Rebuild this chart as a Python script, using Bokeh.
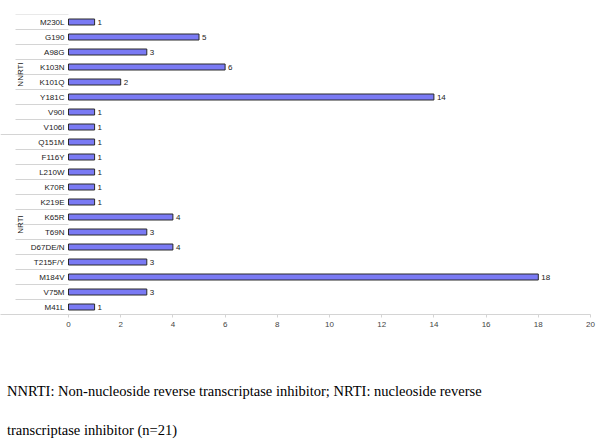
import math
from bokeh.plotting import figure
from bokeh.layouts import column
from bokeh.models import FactorRange, Range1d, FixedTicker, ColumnDataSource, Div
from bokeh.core.properties import value
from bokeh.embed import file_html
from bokeh.resources import INLINE

# ---- data (top to bottom as in the chart) ----
categories = ["M230L", "G190", "A98G", "K103N", "K101Q", "Y181C", "V90I", "V106I",
              "Q151M", "F116Y", "L210W", "K70R", "K219E", "K65R", "T69N",
              "D67DE/N", "T215F/Y", "M184V", "V75M", "M41L"]
counts = [1, 5, 3, 6, 2, 14, 1, 1,
          1, 1, 1, 1, 1, 4, 3, 4, 3, 18, 3, 1]
groups = ["NNRTI", "NRTI"]
group_sizes = [8, 12]
x_ticks = list(range(0, 21, 2))
caption_lines = [
    "NNRTI: Non-nucleoside reverse transcriptase inhibitor; NRTI: nucleoside reverse",
    "transcriptase inhibitor (n=21)",
]

# ---- layout constants (pixels) ----
W, H = 600, 340
FRAME_RIGHT_PAD = 10
ZERO_PX = 68           # pixel offset of value 0 from frame left
PX_PER_UNIT = (W - FRAME_RIGHT_PAD - ZERO_PX) / 20.0
x_start = -ZERO_PX / PX_PER_UNIT
sep_left = -(ZERO_PX - 15) / PX_PER_UNIT
label_x = -4 / PX_PER_UNIT
group_x = -(ZERO_PX - 20) / PX_PER_UNIT

N = len(categories)

p = figure(width=W, height=H, output_backend="svg", toolbar_location=None,
           x_range=Range1d(x_start, 20),
           y_range=FactorRange(factors=list(reversed(categories)), range_padding=0),
           min_border_left=0, min_border_right=FRAME_RIGHT_PAD,
           min_border_top=14, min_border_bottom=H - 14 - 300)
p.outline_line_color = None
p.xgrid.visible = False
p.ygrid.visible = False
p.yaxis.visible = False
p.background_fill_color = "white"
p.border_fill_color = "white"

# x axis
ax = p.xaxis[0]
ax.ticker = FixedTicker(ticks=x_ticks)
ax.axis_line_color = "#d4d4d4"
ax.major_tick_line_color = "#d4d4d4"
ax.minor_tick_line_color = None
ax.major_tick_out = 3
ax.major_tick_in = 0
ax.major_label_text_font = "Liberation Sans"
ax.major_label_text_font_size = "8px"
ax.major_label_text_color = "#444444"
ax.major_label_standoff = 4

# separators between categories
inner_b = [N - k for k in range(0, N)]  # top edge and inner boundaries
group_b = N - group_sizes[0]
xs0 = [sep_left if b != group_b else x_start for b in inner_b]
p.segment(x0=xs0, y0=inner_b, x1=[0] * len(inner_b), y1=inner_b,
          line_color="#d4d4d4", line_width=1)

# bars
src = ColumnDataSource(dict(cat=categories, n=counts, lab=[str(c) for c in counts]))
p.hbar(y="cat", right="n", left=0, height=0.4, source=src,
       fill_color="#7a7af4", line_color="#2a2a2a", line_width=1)
p.text(x="n", y="cat", text="lab", source=src, x_offset=3,
       text_font=value("Liberation Sans"), text_font_size="8px",
       text_color="#222222", text_baseline="middle", text_align="left")

# category labels
p.text(x=[label_x] * N, y=categories, text=categories,
       text_font=value("Liberation Sans"), text_font_size="8px",
       text_color="#222222", text_baseline="middle", text_align="right")

# group labels
centers = []
acc = 0
for gs in group_sizes:
    centers.append(N - acc - gs / 2.0)
    acc += gs
p.text(x=[group_x] * len(groups), y=centers, text=groups, angle=math.pi / 2,
       text_font=value("Liberation Sans"), text_font_size="8px",
       text_color="#222222", text_baseline="middle", text_align="center")

# caption
base = ("font-family:'Liberation Serif',serif;font-size:14.5px;color:#000;"
        "line-height:20px;white-space:nowrap;padding-left:7px;")
html = (f'<div style="{base}padding-top:41px;">{caption_lines[0]}</div>'
        f'<div style="{base}margin-top:19px;">{caption_lines[1]}</div>')
cap = Div(text=html, width=W, height=102, margin=(0, 0, 0, 0))

layout = column(p, cap, spacing=0)
open("out.html", "w").write(file_html(layout, INLINE))
